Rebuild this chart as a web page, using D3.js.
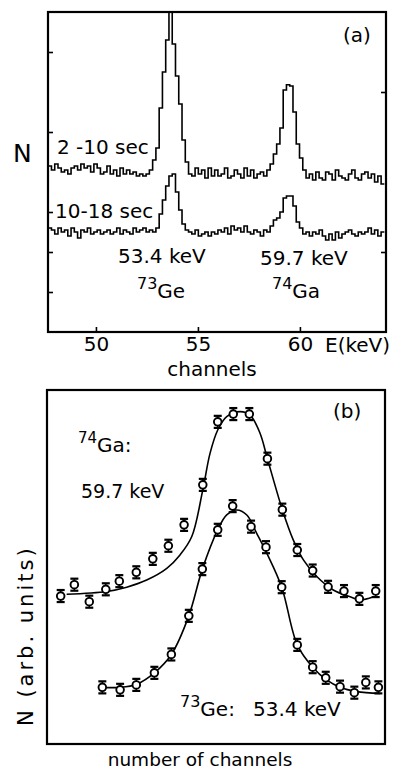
<!DOCTYPE html>
<html>
<head>
<meta charset="utf-8">
<script src="https://cdn.jsdelivr.net/npm/d3@7"></script>
<style>
  body { margin: 0; background: #fff; }
  text { font-family: "DejaVu Sans", sans-serif; fill: #000; }
</style>
</head>
<body>
<svg id="chart" width="396" height="772"></svg>
<script>
// ---------- panel (a): spectra, one value per channel ----------
const chanStart = 47.66;   // keV, left edge of first channel
const chanWidth = 0.16;    // keV per channel

const spec2to10 = [
  4.15, 4.05, 4.2, 4.1, 4.0, 4.05, 3.95, 4.1, 4.15, 4.05,
  4.2, 4.1, 4.15, 4.0, 4.2, 4.1, 3.95, 4.0, 4.15, 3.95,
  4.05, 3.9, 4.1, 3.95, 4.05, 3.95, 4.0, 3.9, 3.95, 3.9,
  3.95, 4.05,
  4.3, 4.6, 5.6, 6.5, 7.3, 8.0, 7.2, 6.4, 5.7, 4.8, 4.25, 3.95, 3.9,
  4.1, 3.95, 4.05, 3.85, 4.1, 3.9, 4.05, 3.9, 3.95, 4.1, 3.85, 3.9, 4.05, 3.95, 3.85, 4.1, 3.9, 4.05, 3.85, 3.95, 4.0,
  3.9, 4.05, 4.2, 4.45, 4.7, 5.1, 6.05, 6.18, 6.15, 5.5, 4.7, 4.35, 4.05, 3.85,
  3.95, 3.8, 4.0, 3.85, 3.8, 4.0, 3.95, 3.8, 4.05, 3.9, 3.85, 3.8, 3.95, 4.05, 3.85, 3.8, 3.95, 4.0, 3.85, 3.95, 3.75, 3.9, 3.7
];

const spec10to18 = [
  2.6, 2.55, 2.45, 2.6, 2.5, 2.55, 2.4, 2.6, 2.5, 2.35,
  2.55, 2.5, 2.6, 2.45, 2.5, 2.55, 2.45, 2.5, 2.55, 2.45,
  2.5, 2.6, 2.45, 2.55, 2.5, 2.45, 2.6, 2.5, 2.55, 2.6,
  2.5, 2.55, 2.5,
  2.6, 2.95, 3.3, 3.65, 3.9, 3.95, 3.5, 3.05, 2.7, 2.55,
  2.5, 2.45, 2.55, 2.4, 2.45, 2.5, 2.4, 2.5, 2.45, 2.55, 2.5, 2.6, 2.45, 2.65, 2.55, 2.6, 2.5, 2.65, 2.5, 2.45, 2.55, 2.5, 2.4, 2.55, 2.5,
  2.65, 2.8, 2.85, 3.0, 3.35, 3.4, 3.4, 3.15, 2.75, 2.6, 2.45,
  2.5, 2.4, 2.5, 2.45, 2.55, 2.4, 2.3, 2.45, 2.3, 2.5, 2.35, 2.45, 2.5, 2.55, 2.45, 2.4, 2.5, 2.45, 2.5, 2.6, 2.45, 2.55, 2.4, 2.5
];

const aTicksX = [50, 55, 60];
const aTicksLeft = [1, 2, 3, 5, 7];
const aTicksRight = [2, 6];

// ---------- panel (b): line shapes vs channel ----------
const gaX = [0.97, 1.84, 2.79, 3.84, 4.70, 5.78, 6.83, 7.82, 8.82, 10.01, 10.96,
             11.95, 12.97, 14.12, 15.07, 16.02, 17.00, 17.98, 18.99, 19.97, 21.01];
const gaY = [4.18, 4.50, 4.02, 4.37, 4.60, 4.85, 5.23, 5.60, 6.19, 7.32, 9.10,
             9.32, 9.32, 8.06, 6.62, 5.48, 4.90, 4.44, 4.32, 4.10, 4.32];
const geX = [3.62, 4.75, 5.78, 6.93, 8.01, 9.12, 9.98, 10.96, 11.91, 13.08,
             14.03, 15.03, 16.02, 17.00, 17.83, 18.74, 19.65, 20.38, 21.18];
const geY = [1.60, 1.53, 1.67, 2.01, 2.53, 3.62, 4.94, 6.05, 6.72, 6.14,
             5.56, 4.43, 2.80, 2.17, 1.87, 1.62, 1.45, 1.74, 1.60];
const errBar = 0.17;

// fitted curves
const gaFitX = [1.35, 3.90, 5.17, 6.44, 7.72, 8.56, 9.31, 10.01, 10.47, 10.96, 11.53, 12.38,
                13.02, 13.65, 14.12, 15.07, 15.77, 16.41, 17.26, 18.31, 19.38, 20.01, 20.86];
const gaFitY = [4.23, 4.31, 4.43, 4.63, 4.96, 5.34, 5.86, 7.18, 8.21, 8.87, 9.25, 9.39,
                9.29, 8.78, 8.06, 6.62, 5.76, 5.20, 4.73, 4.35, 4.16, 4.07, 4.16];
const geFitX = [3.58, 4.75, 5.81, 6.93, 8.01, 9.12, 9.98, 10.96, 11.53, 12.17, 12.81, 13.44,
                14.08, 15.03, 16.02, 17.00, 17.89, 18.74, 19.80, 21.28];
const geFitY = [1.60, 1.60, 1.69, 2.01, 2.53, 3.62, 4.94, 6.05, 6.47, 6.61, 6.47, 5.95,
                5.39, 4.43, 2.80, 2.17, 1.81, 1.60, 1.48, 1.43];

const svg = d3.select('#chart');
svg.append('rect').attr('width', 396).attr('height', 772).attr('fill', '#fff');

/**************************************************************
 * Panel (a)
 **************************************************************/
const a = {left: 48, right: 386, top: 12, bottom: 332};
const xA = d3.scaleLinear().domain([47.65, 64.22]).range([a.left, a.right]);
const yA = d3.scaleLinear().domain([0, 8]).range([a.bottom, a.top]);

function histPoints(vals) {
  const pts = vals.map((v, i) => [chanStart + i * chanWidth, v]);
  pts.push([chanStart + vals.length * chanWidth, vals[vals.length - 1]]);
  return pts;
}
const stepLine = d3.line()
  .x(d => xA(d[0]))
  .y(d => yA(d[1]))
  .curve(d3.curveStepAfter);

[spec2to10, spec10to18].forEach(s => {
  svg.append('path')
    .attr('d', stepLine(histPoints(s)))
    .attr('fill', 'none')
    .attr('stroke', '#000')
    .attr('stroke-width', 1.6);
});

// frame
svg.append('rect')
  .attr('x', a.left).attr('y', a.top)
  .attr('width', a.right - a.left).attr('height', a.bottom - a.top)
  .attr('fill', 'none').attr('stroke', '#000').attr('stroke-width', 2.2);

const axB = svg.append('g')
  .attr('transform', 'translate(0,' + a.bottom + ')')
  .call(d3.axisBottom(xA).tickValues(aTicksX).tickSize(-5).tickPadding(5));
const axL = svg.append('g')
  .attr('transform', 'translate(' + a.left + ',0)')
  .call(d3.axisLeft(yA).tickValues(aTicksLeft).tickSize(-5).tickFormat(''));
const axR = svg.append('g')
  .attr('transform', 'translate(' + a.right + ',0)')
  .call(d3.axisRight(yA).tickValues(aTicksRight).tickSize(-5).tickFormat(''));
[axB, axL, axR].forEach(g => {
  g.select('.domain').remove();
  g.selectAll('line').attr('stroke', '#000').attr('stroke-width', 1.6);
  g.selectAll('text').style('font-size', '20px').attr('font-family', '"DejaVu Sans", sans-serif');
});

function label(x, y, txt, size) {
  return svg.append('text').attr('x', x).attr('y', y).style('font-size', size + 'px').text(txt);
}
label(325, 352, 'E(keV)', 20);
label(212, 376, 'channels', 20).attr('text-anchor', 'middle');
label(343, 42, '(a)', 20);
label(13, 162, 'N', 25);
label(57, 154, '2 -10 sec', 20);
label(55, 218, '10-18 sec', 20);
label(118, 263, '53.4 keV', 20);
label(260, 265, '59.7 keV', 20);

function isotope(x, y, mass, sym, supSize, size) {
  const t = svg.append('text').attr('x', x).attr('y', y).style('font-size', size + 'px');
  t.append('tspan').attr('dy', -0.45 * size).style('font-size', supSize + 'px').text(mass);
  t.append('tspan').attr('dy', 0.45 * size).text(sym);
  return t;
}
isotope(137, 298, '73', 'Ge', 16, 20);
isotope(272, 298, '74', 'Ga', 16, 20);

/**************************************************************
 * Panel (b)
 **************************************************************/
const b = {left: 47, right: 385, top: 390, bottom: 744};
const xB = d3.scaleLinear().domain([0.10, 21.60]).range([b.left, b.right]);
const yB = d3.scaleLinear().domain([0, 10]).range([b.bottom, b.top]);

const fitLine = d3.line()
  .x(d => xB(d[0]))
  .y(d => yB(d[1]))
  .curve(d3.curveCatmullRom.alpha(0.5));

[[gaFitX, gaFitY], [geFitX, geFitY]].forEach(([xs, ys]) => {
  svg.append('path')
    .attr('d', fitLine(xs.map((x, i) => [x, ys[i]])))
    .attr('fill', 'none')
    .attr('stroke', '#000')
    .attr('stroke-width', 1.6);
});

function drawPoints(xs, ys) {
  const g = svg.append('g');
  const pts = xs.map((x, i) => ({x: x, y: ys[i]}));
  const bars = g.selectAll('.eb').data(pts).enter().append('g').attr('class', 'eb');
  bars.append('line')
    .attr('x1', d => xB(d.x)).attr('x2', d => xB(d.x))
    .attr('y1', d => yB(d.y - errBar)).attr('y2', d => yB(d.y + errBar))
    .attr('stroke', '#000').attr('stroke-width', 1.5);
  [1, -1].forEach(sgn => {
    bars.append('line')
      .attr('x1', d => xB(d.x) - 4).attr('x2', d => xB(d.x) + 4)
      .attr('y1', d => yB(d.y + sgn * errBar)).attr('y2', d => yB(d.y + sgn * errBar))
      .attr('stroke', '#000').attr('stroke-width', 2.2);
  });
  bars.append('circle')
    .attr('cx', d => xB(d.x)).attr('cy', d => yB(d.y))
    .attr('r', 3.8)
    .attr('fill', '#fff').attr('stroke', '#000').attr('stroke-width', 1.9);
}
drawPoints(gaX, gaY);
drawPoints(geX, geY);

svg.append('rect')
  .attr('x', b.left).attr('y', b.top)
  .attr('width', b.right - b.left).attr('height', b.bottom - b.top)
  .attr('fill', 'none').attr('stroke', '#000').attr('stroke-width', 2.2);

label(333, 418, '(b)', 20);
isotope(78, 452, '74', 'Ga:', 15, 20);
label(81, 498, '59.7  keV', 19);
isotope(180, 716, '73', 'Ge:', 16, 20);
label(253, 716, '53.4 keV', 20);
label(200, 766, 'number of channels', 18.5).attr('text-anchor', 'middle');

svg.append('text')
  .attr('transform', 'translate(33,726) rotate(-90)')
  .style('font-size', '21px')
  .style('letter-spacing', '3px')
  .text('N  (arb.  units)');
</script>
</body>
</html>
